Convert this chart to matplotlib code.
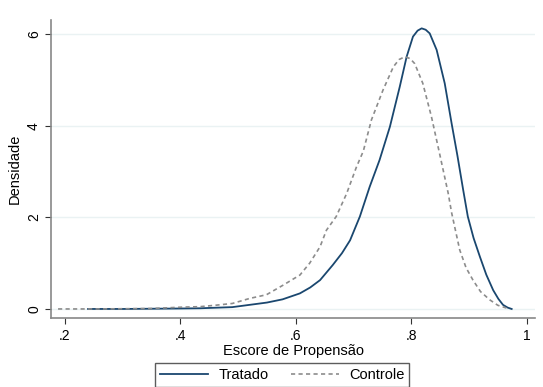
import matplotlib
matplotlib.use("Agg")
import matplotlib.pyplot as plt

# densidade do escore de propensao
trat_x = [0.240, 0.300, 0.350, 0.400, 0.434, 0.490, 0.520, 0.550, 0.577, 0.607,
          0.625, 0.642, 0.664, 0.680, 0.694, 0.711, 0.728, 0.745, 0.763, 0.780,
          0.792, 0.803, 0.811, 0.818, 0.825, 0.832, 0.844, 0.858, 0.870, 0.880,
          0.890, 0.898, 0.908, 0.919, 0.930, 0.942, 0.951, 0.959, 0.967, 0.974]
trat_y = [0.00, 0.00, 0.005, 0.01, 0.015, 0.04, 0.09, 0.14, 0.21, 0.34,
          0.47, 0.63, 0.96, 1.22, 1.50, 2.02, 2.67, 3.25, 3.98, 4.85,
          5.51, 5.95, 6.08, 6.13, 6.10, 6.02, 5.66, 4.93, 4.05, 3.35,
          2.60, 2.02, 1.55, 1.14, 0.75, 0.41, 0.22, 0.09, 0.03, 0.00]

ctrl_x = [0.188, 0.250, 0.300, 0.350, 0.404, 0.434, 0.460, 0.490, 0.520, 0.549,
          0.578, 0.595, 0.607, 0.624, 0.642, 0.653, 0.670, 0.688, 0.705, 0.717,
          0.731, 0.751, 0.769, 0.779, 0.789, 0.798, 0.806, 0.820, 0.835, 0.849,
          0.864, 0.870, 0.884, 0.895, 0.907, 0.920, 0.936, 0.950, 0.965]
ctrl_y = [0.00, 0.00, 0.005, 0.01, 0.04, 0.05, 0.08, 0.12, 0.23, 0.31,
          0.52, 0.65, 0.74, 1.00, 1.36, 1.72, 2.02, 2.52, 3.10, 3.45,
          4.13, 4.78, 5.29, 5.45, 5.51, 5.47, 5.36, 4.93, 4.20, 3.40,
          2.53, 2.10, 1.29, 0.90, 0.63, 0.38, 0.20, 0.08, 0.02]

xticks = [0.2, 0.4, 0.6, 0.8, 1.0]
xlabels = [".2", ".4", ".6", ".8", "1"]
yticks = [0, 2, 4, 6]

plt.rcParams['font.family'] = ['Liberation Sans', 'DejaVu Sans']

fig = plt.figure(figsize=(5.43, 3.87), dpi=100)
ax = fig.add_axes([0.0948, 0.178, 0.890, 0.770])

ax.plot(trat_x, trat_y, color='#1a476f', lw=1.3, label='Tratado')
ax.plot(ctrl_x, ctrl_y, color='#8c8c8c', lw=1.2, ls=(0, (2.5, 2)), label='Controle')

ax.set_xlim(0.1766, 1.014)
ax.set_ylim(-0.2, 6.31)
ax.set_xticks(xticks)
ax.set_xticklabels(xlabels)
ax.set_yticks(yticks)
ax.set_yticklabels([str(v) for v in yticks], rotation=90, va='center')
ax.tick_params(labelsize=10, length=4, width=0.8, color='#333333')

ax.grid(axis='y', color='#eaf2f3', lw=1)
ax.set_axisbelow(True)
for s in ['top', 'right']:
    ax.spines[s].set_visible(False)
for s in ['left', 'bottom']:
    ax.spines[s].set_color('#888888')
    ax.spines[s].set_linewidth(1.2)

ax.set_xlabel('Escore de Propensão', fontsize=10.5, labelpad=1)
ax.set_ylabel('Densidade', fontsize=10.5, labelpad=4)

leg = fig.legend(loc='upper center', bbox_to_anchor=(0.520, 0.062), ncol=2,
                 fontsize=10.5, frameon=True, fancybox=False, edgecolor='#333333',
                 handlelength=3.3, handletextpad=0.7, columnspacing=1.5,
                 borderpad=0.35, borderaxespad=0)
leg.get_frame().set_linewidth(1.0)

fig.savefig('out.png', dpi=100)
